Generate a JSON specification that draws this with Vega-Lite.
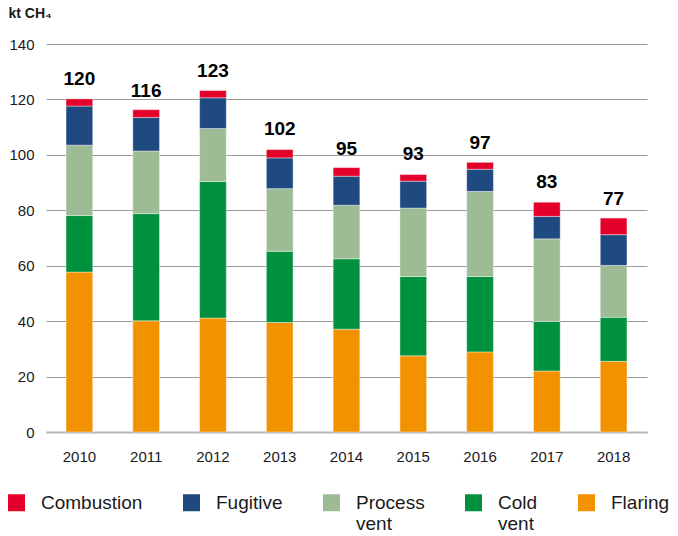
{
  "$schema": "https://vega.github.io/schema/vega-lite/v6.json",
  "width": 601,
  "height": 388,
  "autosize": {"type": "none"},
  "padding": {"left": 46, "top": 44, "right": 31, "bottom": 104},
  "background": "white",
  "config": {
    "font": "Liberation Sans",
    "view": {"stroke": null},
    "axis": {"labelFont": "Liberation Sans", "titleFont": "Liberation Sans"}
  },
  "datasets": {
    "segments": [
      {"year": "2010", "source": "Flaring", "value": 57.7},
      {"year": "2010", "source": "Cold vent", "value": 20.4},
      {"year": "2010", "source": "Process vent", "value": 25.4},
      {"year": "2010", "source": "Fugitive", "value": 14.1},
      {"year": "2010", "source": "Combustion", "value": 2.6},
      {"year": "2011", "source": "Flaring", "value": 40.1},
      {"year": "2011", "source": "Cold vent", "value": 38.7},
      {"year": "2011", "source": "Process vent", "value": 22.6},
      {"year": "2011", "source": "Fugitive", "value": 12.1},
      {"year": "2011", "source": "Combustion", "value": 2.8},
      {"year": "2012", "source": "Flaring", "value": 41.1},
      {"year": "2012", "source": "Cold vent", "value": 49.3},
      {"year": "2012", "source": "Process vent", "value": 19.1},
      {"year": "2012", "source": "Fugitive", "value": 11.1},
      {"year": "2012", "source": "Combustion", "value": 2.6},
      {"year": "2013", "source": "Flaring", "value": 39.5},
      {"year": "2013", "source": "Cold vent", "value": 25.7},
      {"year": "2013", "source": "Process vent", "value": 22.6},
      {"year": "2013", "source": "Fugitive", "value": 11.1},
      {"year": "2013", "source": "Combustion", "value": 3.0},
      {"year": "2014", "source": "Flaring", "value": 37.1},
      {"year": "2014", "source": "Cold vent", "value": 25.4},
      {"year": "2014", "source": "Process vent", "value": 19.3},
      {"year": "2014", "source": "Fugitive", "value": 10.5},
      {"year": "2014", "source": "Combustion", "value": 3.1},
      {"year": "2015", "source": "Flaring", "value": 27.5},
      {"year": "2015", "source": "Cold vent", "value": 28.6},
      {"year": "2015", "source": "Process vent", "value": 24.7},
      {"year": "2015", "source": "Fugitive", "value": 9.7},
      {"year": "2015", "source": "Combustion", "value": 2.4},
      {"year": "2016", "source": "Flaring", "value": 28.9},
      {"year": "2016", "source": "Cold vent", "value": 27.2},
      {"year": "2016", "source": "Process vent", "value": 30.7},
      {"year": "2016", "source": "Fugitive", "value": 8.0},
      {"year": "2016", "source": "Combustion", "value": 2.5},
      {"year": "2017", "source": "Flaring", "value": 22.0},
      {"year": "2017", "source": "Cold vent", "value": 17.9},
      {"year": "2017", "source": "Process vent", "value": 29.8},
      {"year": "2017", "source": "Fugitive", "value": 8.1},
      {"year": "2017", "source": "Combustion", "value": 5.1},
      {"year": "2018", "source": "Flaring", "value": 25.5},
      {"year": "2018", "source": "Cold vent", "value": 15.9},
      {"year": "2018", "source": "Process vent", "value": 18.7},
      {"year": "2018", "source": "Fugitive", "value": 11.1},
      {"year": "2018", "source": "Combustion", "value": 6.0}
    ],
    "totals": [
      {"year": "2010", "total": 120},
      {"year": "2011", "total": 116},
      {"year": "2012", "total": 123},
      {"year": "2013", "total": 102},
      {"year": "2014", "total": 95},
      {"year": "2015", "total": 93},
      {"year": "2016", "total": 97},
      {"year": "2017", "total": 83},
      {"year": "2018", "total": 77}
    ]
  },
  "encoding": {
    "x": {
      "field": "year",
      "type": "nominal",
      "scale": {"paddingInner": 0.6, "paddingOuter": 0.3},
      "axis": {
        "title": null,
        "labelAngle": 0,
        "labelFontSize": 15,
        "labelColor": "#1a1a1a",
        "labelPadding": 17,
        "ticks": false,
        "domain": true,
        "domainColor": "#b5b5b5",
        "domainWidth": 2,
        "grid": false
      }
    }
  },
  "layer": [
    {
      "data": {"name": "segments"},
      "transform": [
        {"calculate": "indexof(['Flaring', 'Cold vent', 'Process vent', 'Fugitive', 'Combustion'], datum.source)", "as": "stackOrder"}
      ],
      "mark": {"type": "bar", "stroke": "#ffffff", "strokeWidth": 0.4},
      "encoding": {
        "y": {
          "field": "value",
          "type": "quantitative",
          "stack": "zero",
          "scale": {"domain": [0, 140], "nice": false},
          "axis": {
            "values": [0, 20, 40, 60, 80, 100, 120, 140],
            "title": "kt CH₄",
            "titleAngle": 0,
            "titleAlign": "left",
            "titleBaseline": "alphabetic",
            "titleX": -38,
            "titleY": -27,
            "titleFontSize": 14,
            "titleFontWeight": "bold",
            "titleColor": "#1a1a1a",
            "labelFontSize": 15,
            "labelColor": "#1a1a1a",
            "labelPadding": 12,
            "ticks": false,
            "domain": false,
            "grid": true,
            "gridColor": "#9a9a9a",
            "gridWidth": 1
          }
        },
        "order": {"field": "stackOrder", "type": "quantitative", "sort": "ascending"},
        "color": {
          "field": "source",
          "type": "nominal",
          "scale": {
            "domain": ["Combustion", "Fugitive", "Process vent", "Cold vent", "Flaring"],
            "range": ["#e4002b", "#1f4a80", "#9dbb94", "#00913f", "#f39200"]
          },
          "legend": {
            "title": null,
            "orient": "none",
            "legendX": -39,
            "legendY": 449,
            "direction": "horizontal",
            "columns": 5,
            "symbolType": "square",
            "symbolSize": 289,
            "symbolStrokeWidth": 0,
            "labelFontSize": 19,
            "labelColor": "#1a1a1a",
            "labelOffset": 15,
            "columnPadding": 39,
            "labelLimit": 200,
            "labelExpr": "datum.label == 'Process vent' ? ['Process', 'vent'] : datum.label == 'Cold vent' ? ['Cold', 'vent'] : [datum.label, ' ']"
          }
        }
      }
    },
    {
      "data": {"name": "totals"},
      "mark": {"type": "text", "fontWeight": "bold", "fontSize": 19, "baseline": "alphabetic", "dy": -14, "color": "#000000"},
      "encoding": {
        "y": {"field": "total", "type": "quantitative"},
        "text": {"field": "total", "type": "quantitative"}
      }
    }
  ]
}
